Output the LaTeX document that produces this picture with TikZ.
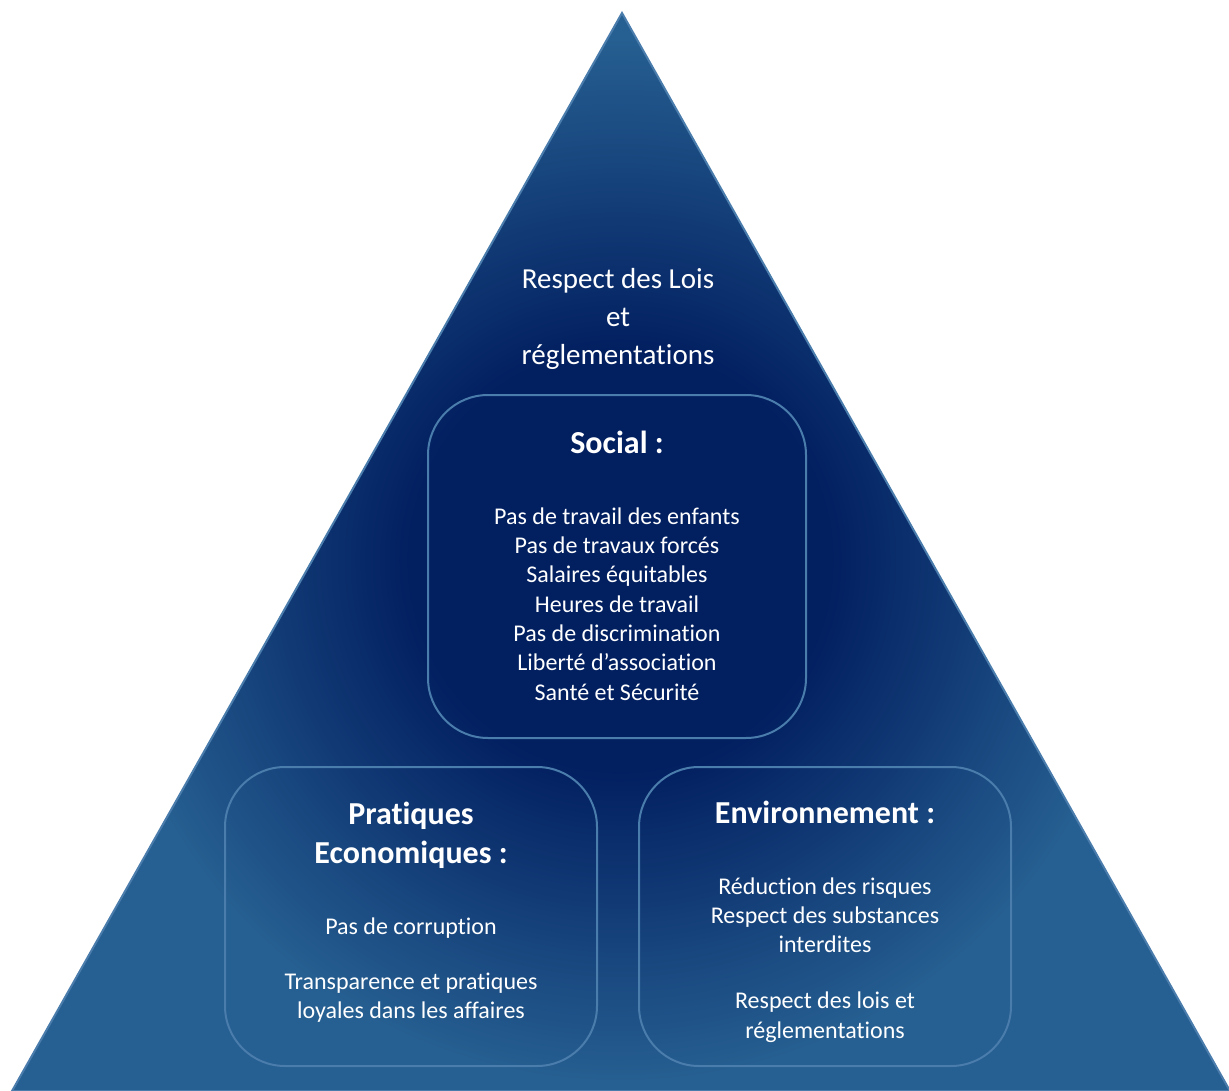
\documentclass[tikz,border=0pt]{standalone}
\usepackage{fontspec}
\setmainfont{Carlito}[Ligatures={NoCommon,NoContextual}]
\usetikzlibrary{positioning}
\definecolor{pyrdark}{RGB}{2,31,96}
\definecolor{pyrlight}{RGB}{38,95,145}
\definecolor{pyredge}{RGB}{74,124,172}
\pgfdeclareradialshading{pyrshade}{\pgfpoint{0bp}{0bp}}{color(0bp)=(pyrdark); color(5.8bp)=(pyrdark); color(14.5bp)=(pyrlight); color(25bp)=(pyrlight); color(50bp)=(pyrlight)}

\begin{document}
\begin{tikzpicture}[x=1pt,y=-1pt,
    box/.style={draw=pyredge, line width=2pt, rounded corners=60pt, inner sep=0pt},
    head/.style={text=white, inner sep=0pt, align=center, font=\fontsize{32}{39}\selectfont\bfseries},
    item/.style={text=white, inner sep=0pt, align=center, font=\fontsize{24}{29.3}\selectfont},
    top/.style={text=white, inner sep=0pt, align=center, font=\fontsize{29}{37.6}\selectfont}]
    \useasboundingbox (0,0) rectangle (1229,1091);
    % background pyramid
    \begin{scope}
        \clip (622,13) -- (1230,1091) -- (12,1091) -- cycle;
        \shade[shading=pyrshade] (620,560) circle (900);
    \end{scope}
    \draw[pyredge, line width=2pt] (622,13) -- (1230,1091) -- (12,1091) -- cycle;
    \node[top] (lois) at (618,319) {Respect des Lois\\et\\réglementations};
    % the three boxes
    \node[box, minimum width=378pt, minimum height=343pt] (social) at (617,566.5) {};
    \node[box, minimum width=372pt, minimum height=299pt] (eco) at (411,916.5) {};
    \node[box, minimum width=372pt, minimum height=299pt] (env) at (825,916.5) {};
    \node[head, anchor=base] (socialtitle) at (617,453) {Social :};
    \node[item] (socialitems) at (617,604) {Pas de travail des enfants\\Pas de travaux forcés\\Salaires équitables\\Heures de travail\\Pas de discrimination\\Liberté d’association\\Santé et Sécurité};
    \node[head] (ecotitle) at (411,835) {Pratiques\\Economiques :};
    \node[item] (ecoitems) at (411,970) {Pas de corruption\\[25.7pt]Transparence et pratiques\\loyales dans les affaires};
    \node[head, anchor=base] (envtitle) at (825,823) {Environnement :};
    \node[item] (envitems) at (825,960) {Réduction des risques\\Respect des substances\\interdites\\[26.7pt]Respect des lois et\\réglementations};
\end{tikzpicture}
\end{document}
